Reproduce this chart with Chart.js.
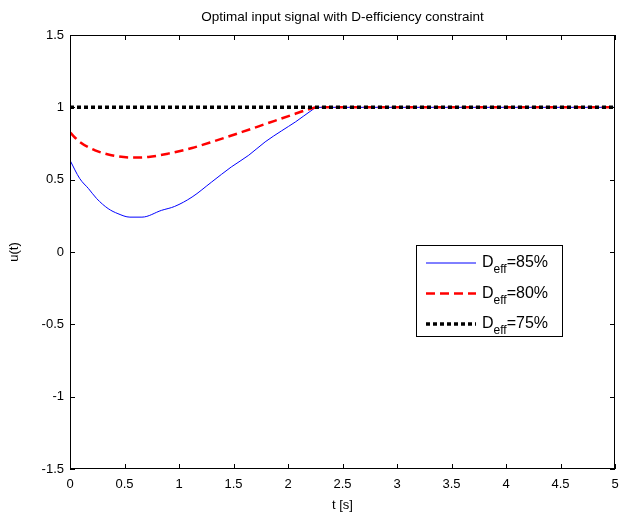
<!DOCTYPE html>
<html>
<head>
<meta charset="utf-8">
<script src="https://cdn.jsdelivr.net/npm/chart.js@4.4.0/dist/chart.umd.min.js"></script>
<style>
  html, body { margin: 0; padding: 0; background: #fff; }
  #wrap { width: 623px; height: 513px; }
</style>
</head>
<body>
<div id="wrap"><canvas id="inputChart" width="623" height="513"></canvas></div>
<script>
// Values
const chartTitle = 'Optimal input signal with D-efficiency constraint';
const xTicks = [0, 0.5, 1, 1.5, 2, 2.5, 3, 3.5, 4, 4.5, 5];
const yTicks = [-1.5, -1, -0.5, 0, 0.5, 1, 1.5];

const t85 = [0, 0.09, 0.17, 0.245, 0.35, 0.44, 0.55, 0.66, 0.84, 0.96, 1.12, 1.3, 1.48, 1.64, 1.79, 1.94, 2.07, 2.22, 2.26, 5];
const u85 = [0.634, 0.507, 0.438, 0.369, 0.30, 0.265, 0.241, 0.241, 0.288, 0.315, 0.38, 0.484, 0.588, 0.669, 0.761, 0.837, 0.90, 0.981, 1.0, 1.0];

const t80 = [0, 0.09, 0.23, 0.38, 0.57, 0.72, 0.9, 1.12, 1.33, 1.58, 1.79, 2.03, 2.22, 2.27, 5];
const u80 = [0.826, 0.761, 0.703, 0.669, 0.653, 0.657, 0.68, 0.719, 0.768, 0.83, 0.884, 0.946, 0.993, 1.0, 1.0];

const t75 = [0, 5];
const u75 = [1, 1];

const legendLabels = ['=85%', '=80%', '=75%'];

const FONT = '"Liberation Sans", Arial, Helvetica, sans-serif';

const toPoints = (ts, us) => ts.map((t, i) => ({ x: t, y: us[i] }));
const fmt = v => String(Math.round(v * 10) / 10);

const styles = [
    { color: '#0000ff', width: 1, dash: [] },
    { color: '#ff0000', width: 2.5, dash: [9, 5] },
    { color: '#000000', width: 3.5, dash: [4, 3] }
];

// frame, inward ticks, title and legend like the original figure
const matlabLook = {
    id: 'matlabLook',
    afterDraw(chart) {
        const c = chart.ctx;
        const a = chart.chartArea;
        const xs = chart.scales.x, ys = chart.scales.y;
        c.save();
        c.strokeStyle = '#000';
        c.lineWidth = 1;
        c.setLineDash([]);
        c.beginPath();
        xTicks.forEach(v => {
            const px = Math.round(xs.getPixelForValue(v)) + 0.5;
            c.moveTo(px, a.bottom); c.lineTo(px, a.bottom - 5);
            c.moveTo(px, a.top); c.lineTo(px, a.top + 5);
        });
        yTicks.forEach(v => {
            const py = Math.round(ys.getPixelForValue(v)) + 0.5;
            c.moveTo(a.left, py); c.lineTo(a.left + 5, py);
            c.moveTo(a.right, py); c.lineTo(a.right - 5, py);
        });
        c.stroke();
        c.strokeRect(Math.round(a.left) + 0.5, Math.round(a.top) + 0.5,
            Math.round(a.right - a.left) - 1, Math.round(a.bottom - a.top) - 1);

        // title
        c.fillStyle = '#000';
        c.font = '13.5px ' + FONT;
        c.textAlign = 'center';
        c.textBaseline = 'middle';
        c.fillText(chartTitle, (a.left + a.right) / 2, 17);

        // legend
        const bx = a.left + 346, by = a.top + 210, bw = 146, bh = 91;
        c.fillStyle = '#fff';
        c.fillRect(bx, by, bw, bh);
        c.strokeRect(bx + 0.5, by + 0.5, bw, bh);
        styles.forEach((s, i) => {
            const ly = by + 18 + i * 30.5;
            c.strokeStyle = s.color;
            c.lineWidth = s.width;
            c.setLineDash(s.dash);
            c.beginPath();
            c.moveTo(bx + 10, ly); c.lineTo(bx + 60, ly);
            c.stroke();
            c.setLineDash([]);
            c.fillStyle = '#000';
            c.textAlign = 'left';
            c.textBaseline = 'alphabetic';
            c.font = '16px ' + FONT;
            const tx = bx + 66;
            c.fillText('D', tx, ly + 4);
            const dw = c.measureText('D').width;
            c.font = '12px ' + FONT;
            c.fillText('eff', tx + dw, ly + 10);
            const ew = c.measureText('eff').width;
            c.font = '16px ' + FONT;
            c.fillText(legendLabels[i], tx + dw + ew, ly + 4);
        });
        c.restore();
    }
};

const ctx = document.getElementById('inputChart');
new Chart(ctx, {
    type: 'line',
    data: {
        datasets: [
            { label: 'Deff=85%', data: toPoints(t85, u85), order: 3 },
            { label: 'Deff=80%', data: toPoints(t80, u80), order: 2 },
            { label: 'Deff=75%', data: toPoints(t75, u75), order: 1 }
        ].map((d, i) => Object.assign(d, {
            borderColor: styles[i].color,
            borderWidth: styles[i].width,
            borderDash: styles[i].dash,
            borderCapStyle: 'butt',
            pointRadius: 0,
            cubicInterpolationMode: 'monotone',
            fill: false
        }))
    },
    options: {
        responsive: false,
        animation: false,
        layout: { padding: { top: 35, right: 8, left: 0, bottom: 0 } },
        plugins: { legend: { display: false }, title: { display: false }, tooltip: { enabled: false } },
        scales: {
            x: {
                type: 'linear', min: 0, max: 5,
                afterBuildTicks: s => { s.ticks = xTicks.map(v => ({ value: v })); },
                afterFit: s => { s.height = 44; s.paddingRight = 0; s.paddingLeft = 0; },
                grid: { display: false, drawTicks: false },
                border: { display: false },
                ticks: { color: '#000', font: { family: FONT, size: 13 }, padding: 8, maxRotation: 0, callback: v => fmt(v) },
                title: { display: true, text: 't [s]', color: '#000', font: { family: FONT, size: 13 }, padding: { top: 3, bottom: 0 } }
            },
            y: {
                type: 'linear', min: -1.5, max: 1.5,
                afterBuildTicks: s => { s.ticks = yTicks.map(v => ({ value: v })); },
                afterFit: s => { s.width = 70; },
                grid: { display: false, drawTicks: false },
                border: { display: false },
                ticks: { color: '#000', font: { family: FONT, size: 13 }, padding: 6, callback: v => fmt(v) },
                title: { display: true, text: 'u(t)', color: '#000', font: { family: FONT, size: 13 }, padding: { top: 7, bottom: 0 } }
            }
        }
    },
    plugins: [matlabLook]
});
</script>
</body>
</html>
